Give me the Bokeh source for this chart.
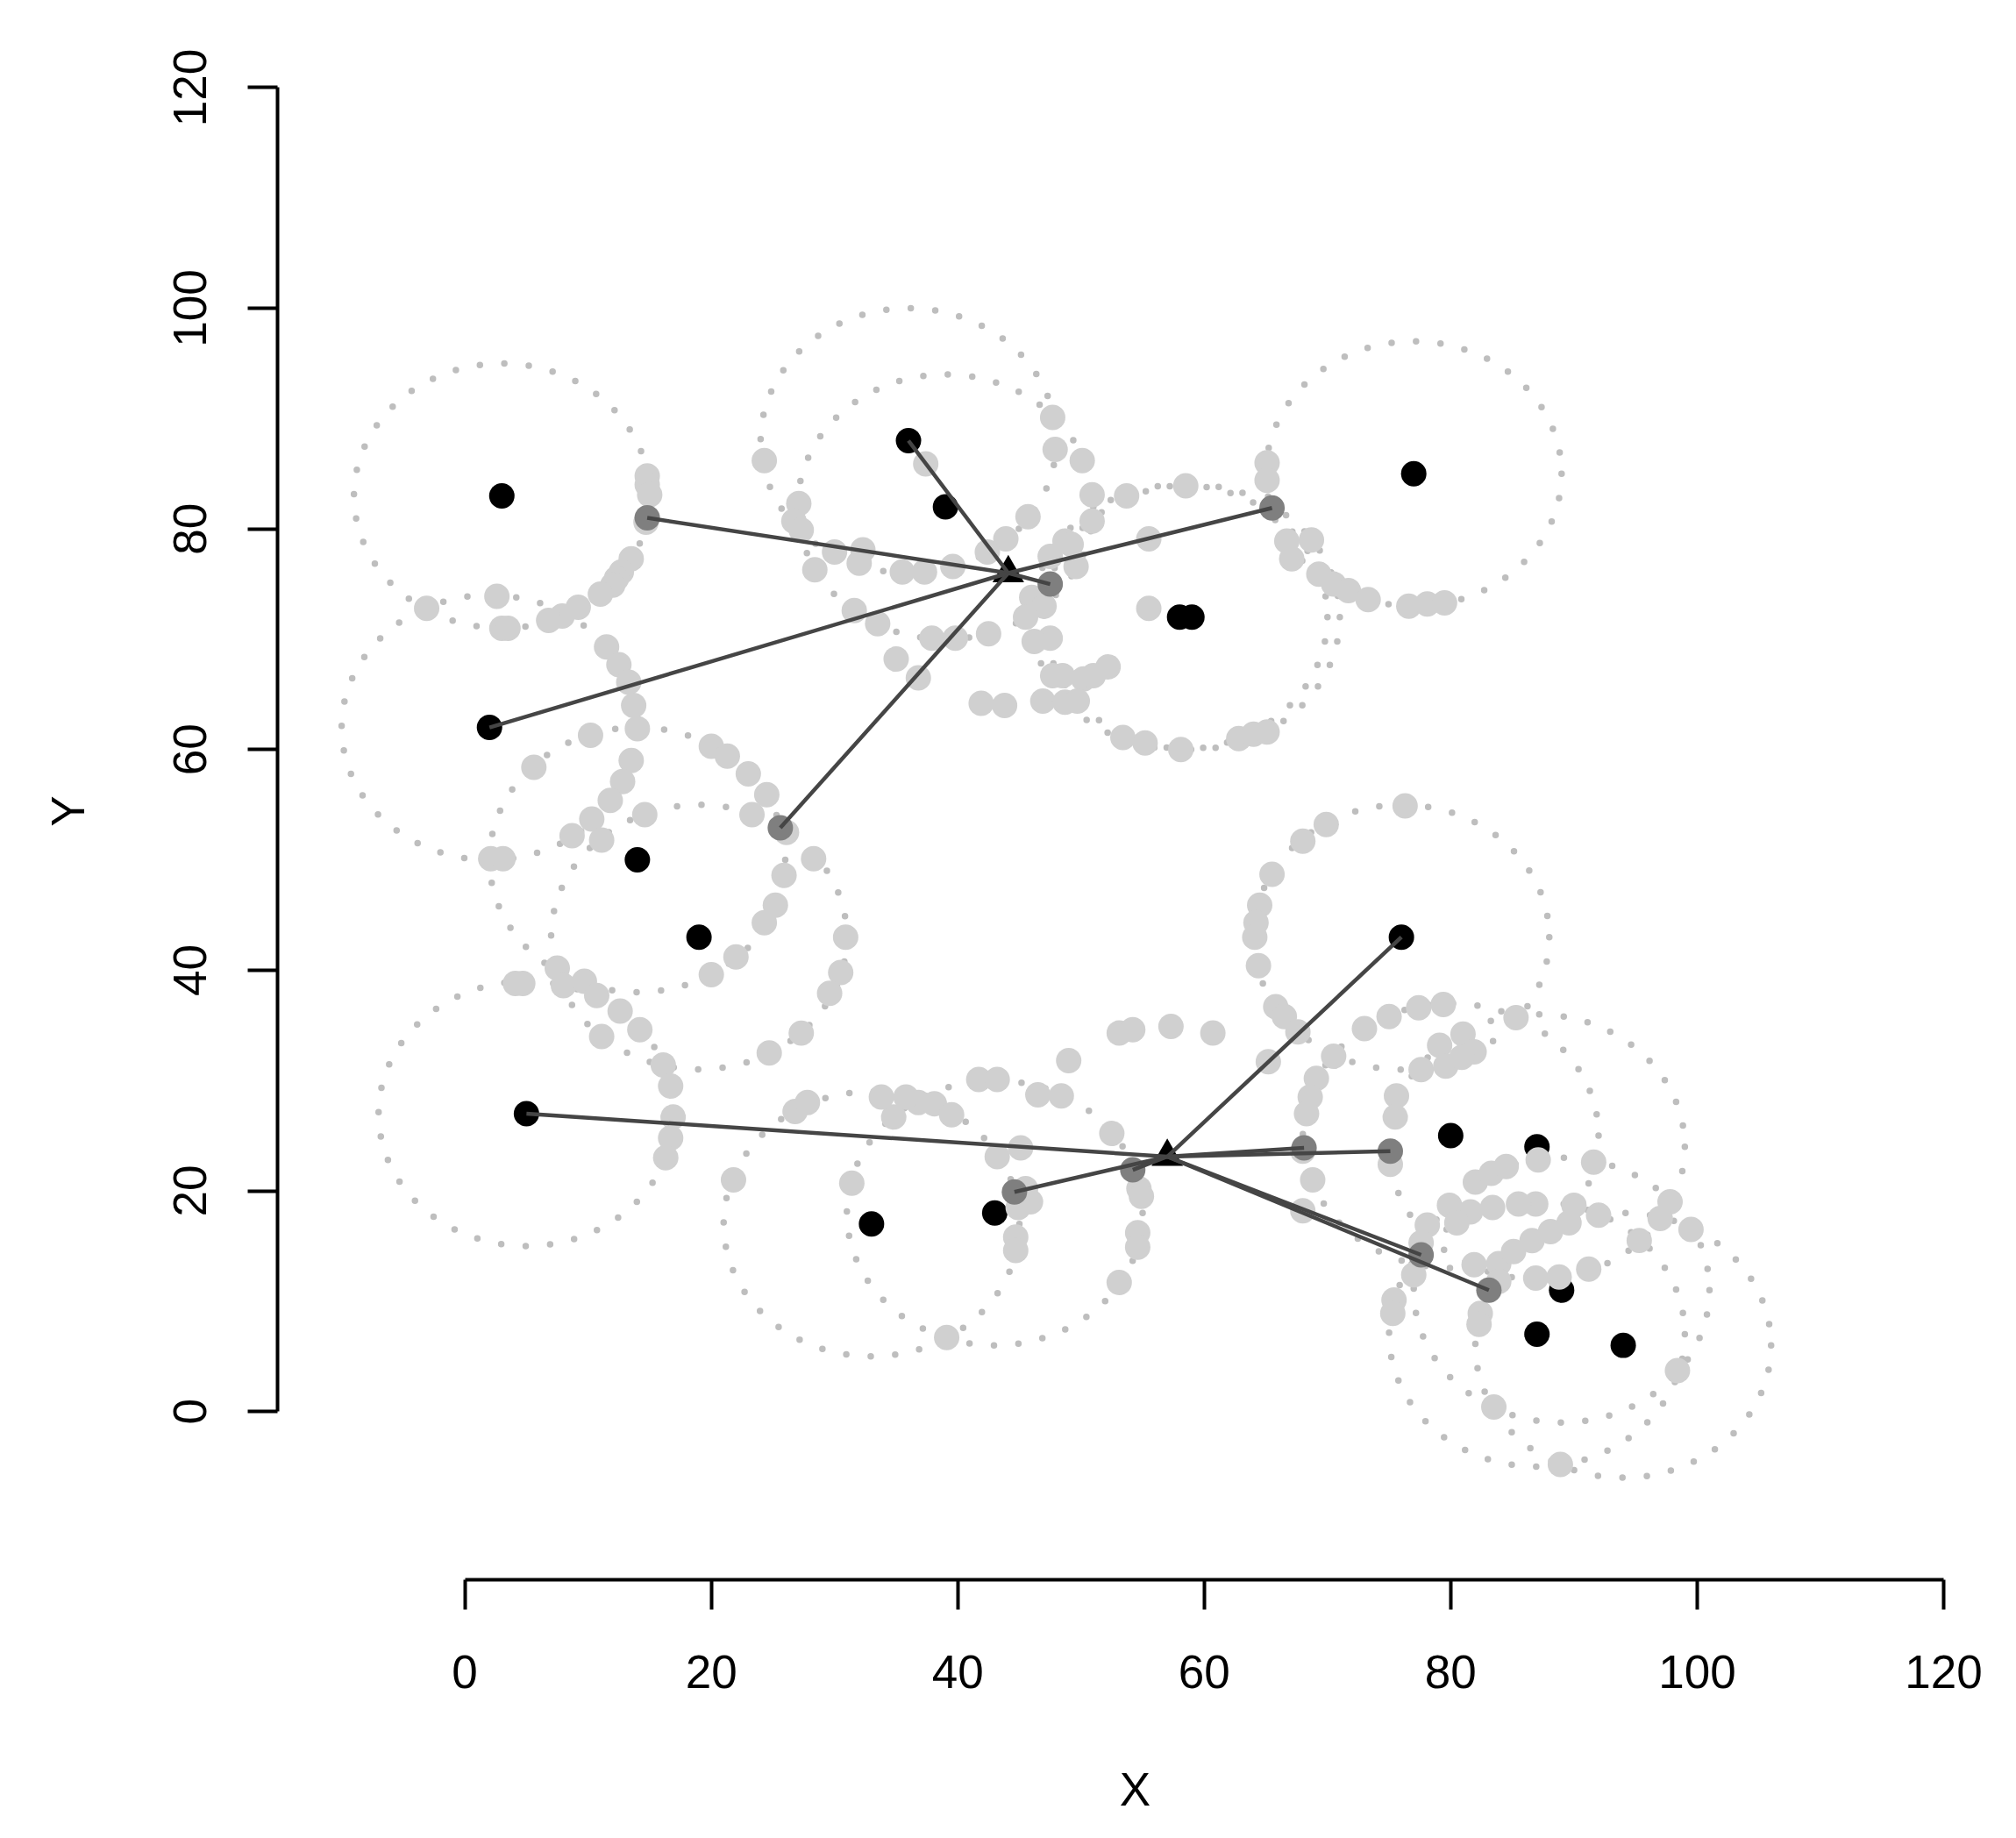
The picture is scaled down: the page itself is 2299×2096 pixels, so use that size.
from bokeh.plotting import figure
from bokeh.models import Range1d, FixedTicker, ColumnDataSource
from bokeh.embed import file_html
from bokeh.resources import INLINE

# ---- data ----
black_x = [3, 36, 39, 77, 58, 59, 2, 14, 19, 76, 5, 33, 43, 80, 87, 89, 87, 94]
black_y = [83, 88, 82, 85, 72, 72, 62, 50, 43, 43, 27, 17, 18, 25, 24, 11, 7, 6]
radius = 12

light_x = [14.8, 14.8, 15.0, 14.7, 13.5, 12.7, 12.3, 12.0, 11.0, 9.2, 7.9, 6.8, 2.6, 3.0, 3.5, -3.1,
           24.3, 27.1, 26.7, 27.3, 28.4, 11.5, 12.5, 13.3,
           47.7, 47.9, 50.1, 37.4, 50.9, 53.7, 58.5, 65.1, 65.1, 50.9, 45.7, 43.9, 42.4, 48.7, 49.2,
           47.5, 49.6, 55.5, 39.6, 37.3, 35.5, 32.3, 32.0, 30.0, 46.0, 47.0, 45.5, 47.5, 46.2, 55.5,
           31.6, 33.5, 37.9, 39.8, 42.5, 35.0, 36.8, 47.7, 48.5, 50.2, 52.2, 51.0, 66.7, 67.1,
           68.7, 69.3, 70.5, 71.7, 73.3, 76.6, 78.1, 79.5,
           13.7, 14.0, 10.2, 5.6, 13.5, 12.8, 11.8, 10.3, 8.7, 11.1, 14.6, 2.1, 3.1, 20.0, 21.3, 23.0,
           24.5, 23.3, 26.1, 28.3, 25.9, 25.2, 24.3, 22.0, 20.0, 27.3, 24.7, 4.1, 4.7, 7.5, 8.0, 9.7,
           10.7, 12.6, 14.2, 11.1, 16.1, 16.7,
           41.9, 43.8, 46.9, 48.7, 49.7, 53.4, 55.2, 58.1, 62.8, 64.0, 65.1, 30.9, 30.5, 29.6, 65.5,
           64.5, 64.2, 64.1, 64.4, 65.8, 66.5, 65.2, 53.1, 54.2, 57.3, 60.7, 49.0, 41.7, 43.2,
           76.3, 69.9, 68.0, 73.0, 75.0, 77.4, 79.4, 85.3, 70.5, 69.1, 77.6, 79.1, 81.0, 81.9, 79.6,
           80.9, 67.6,
           16.9, 16.7, 16.3, 21.8, 26.8, 27.8,
           34.8, 36.8, 38.1, 39.5, 33.8, 35.8, 46.5, 48.4, 52.5, 45.1, 43.2, 31.4, 45.5, 45.9, 44.9,
           44.7, 44.7, 54.7, 54.9, 54.6, 54.6, 53.1, 39.1,
           68.6, 68.3, 68.8, 68.0, 75.6, 75.5, 75.1, 68.0, 87.1, 82.0, 83.3, 84.5, 91.6, 97.8, 97.0,
           99.5, 95.3, 92.0, 90.0, 86.9, 85.5, 83.4, 81.6, 79.9, 80.5, 78.1, 77.6, 77.0, 75.4, 75.3,
           82.4, 82.3, 83.9, 85.1, 86.6, 88.1, 89.6, 83.9, 86.9, 88.8, 91.2, 81.9, 83.5, 88.9, 98.4]
light_y = [84.8, 84.0, 83.1, 80.6, 77.3, 76.1, 75.5, 74.9, 74.1, 72.9, 72.1, 71.7, 73.9, 71.0, 71.0, 72.8,
           86.2, 82.3, 80.7, 79.9, 76.3, 69.3, 67.7, 66.1,
           90.1, 87.2, 86.2, 85.9, 83.1, 83.0, 83.9, 86.0, 84.4, 80.7, 81.1, 79.1, 77.9, 78.9, 78.6,
           77.5, 76.6, 79.1, 76.6, 76.1, 76.1, 78.1, 76.9, 77.9, 73.8, 73.0, 72.0, 70.1, 69.8, 72.8,
           72.6, 71.4, 70.1, 70.1, 70.5, 68.2, 66.5, 66.7, 66.7, 66.4, 67.5, 66.7, 78.9, 77.3,
           79.0, 75.9, 75.0, 74.4, 73.6, 73.0, 73.2, 73.3,
           64.0, 61.9, 61.3, 58.4, 59.0, 57.1, 55.4, 53.7, 52.2, 51.8, 54.1, 50.1, 50.1, 60.3, 59.4, 57.8,
           55.9, 54.1, 52.5, 50.1, 48.6, 45.9, 44.3, 41.2, 39.6, 34.3, 32.5, 38.8, 38.8, 40.2, 38.6, 39.0,
           37.7, 36.3, 34.6, 34.0, 31.4, 29.5,
           64.2, 64.0, 64.4, 64.3, 64.4, 61.1, 60.6, 60.0, 61.0, 61.4, 61.6, 43.0, 39.8, 37.9, 48.7,
           45.9, 44.3, 43.0, 40.4, 36.7, 35.8, 31.7, 34.3, 34.6, 34.9, 34.3, 31.8, 30.1, 30.1,
           54.9, 53.2, 51.7, 34.7, 35.8, 36.6, 36.9, 35.7, 32.2, 30.2, 31.0, 33.2, 34.2, 32.6, 31.3,
           32.1, 34.4,
           26.7, 24.8, 23.0, 21.0, 27.2, 28.0,
           26.7, 28.0, 27.9, 26.9, 28.5, 28.5, 28.7, 28.6, 25.2, 23.9, 23.1, 20.7, 20.2, 19.0, 18.5,
           15.8, 14.6, 20.2, 19.5, 16.2, 14.9, 11.7, 6.7,
           28.5, 27.0, 21.0, 18.2, 28.6, 26.7, 22.4, 23.6, 22.8, 20.8, 21.6, 22.2, 22.6, 19.0, 17.5,
           16.5, 15.5, 17.8, 18.7, 18.8, 18.8, 18.5, 18.1, 18.7, 17.1, 16.9, 15.3, 12.4, 10.1, 8.9,
           8.9, 7.9, 13.4, 14.5, 15.5, 16.3, 17.1, 11.8, 12.1, 12.2, 12.9, 13.3, 0.4, -4.8, 3.7]

dark_x = [14.8, 25.6, 47.5, 65.5, 44.6, 54.2, 68.1, 75.1, 77.6, 83.1]
dark_y = [81.0, 52.9, 75.0, 81.9, 19.9, 21.9, 23.9, 23.6, 14.2, 11.0]

tri_x = [44.1, 57.0]
tri_y = [76.0, 23.1]

# end points of the links and the triangle each one goes to
link_x = [14.8, 25.6, 47.5, 65.5, 2, 36, 44.6, 54.2, 68.1, 75.1, 77.6, 83.1, 5, 76]
link_y = [81.0, 52.9, 75.0, 81.9, 62, 88, 19.9, 21.9, 23.9, 23.6, 14.2, 11.0, 27, 43]
link_to = [0, 0, 0, 0, 0, 0, 1, 1, 1, 1, 1, 1, 1, 1]

ticks = [0, 20, 40, 60, 80, 100, 120]

# ---- layout ----
W, H = 2283, 2080
left_b, top_b = 316, 48
fw, fh = 1956, 1753
ppx, ppy = 14.053, 12.581
x0, y0 = -15.2, -15.25

p = figure(width=W, height=H,
           x_range=Range1d(x0, x0 + fw / ppx), y_range=Range1d(y0, y0 + fh / ppy),
           output_backend="svg", toolbar_location=None,
           min_border_left=left_b, min_border_right=W - left_b - fw,
           min_border_top=top_b, min_border_bottom=H - top_b - fh)
p.outline_line_color = None
p.xgrid.visible = False
p.ygrid.visible = False
p.background_fill_color = "white"
p.border_fill_color = "white"

FONT = "Liberation Sans"
for ax in (p.xaxis[0], p.yaxis[0]):
    ax.bounds = (0, 120)
    ax.ticker = FixedTicker(ticks=ticks)
    ax.axis_line_width = 4
    ax.axis_line_color = "black"
    ax.major_tick_line_width = 4
    ax.major_tick_line_color = "black"
    ax.major_tick_out = 34
    ax.major_tick_in = 0
    ax.minor_tick_line_color = None
    ax.major_label_text_font = FONT
    ax.major_label_text_font_size = "53px"
    ax.major_label_text_color = "black"
    ax.axis_label_text_font = FONT
    ax.axis_label_text_font_size = "53px"
    ax.axis_label_text_font_style = "normal"
    ax.axis_label_text_color = "black"

p.xaxis.axis_label = "X"
p.yaxis.axis_label = "Y"
p.xaxis.major_label_standoff = 52
p.xaxis.axis_label_standoff = 83
p.yaxis.major_label_orientation = "vertical"
p.yaxis.major_label_standoff = 47
p.yaxis.axis_label_standoff = 89

# ---- marks ----
circ = ColumnDataSource(dict(x=black_x, y=black_y))
p.ellipse(x="x", y="y", width=2 * radius, height=2 * radius, source=circ,
          fill_color=None, line_color="#bebebe", line_width=7.5,
          line_dash="0 28", line_cap="round")

p.scatter(black_x, black_y, size=29, fill_color="black", line_color=None)
p.scatter(light_x, light_y, size=29, fill_color="#d0d0d0", line_color=None)
p.scatter(dark_x, dark_y, size=29, fill_color="#7f7f7f", line_color=None)
p.scatter(tri_x, tri_y, marker="triangle", size=36, fill_color="black", line_color=None)

sx = [tri_x[i] for i in link_to]
sy = [tri_y[i] for i in link_to]
p.segment(x0=link_x, y0=link_y, x1=sx, y1=sy, line_color="#454545", line_width=4.5)

open("out.html", "w").write(file_html(p, INLINE))
